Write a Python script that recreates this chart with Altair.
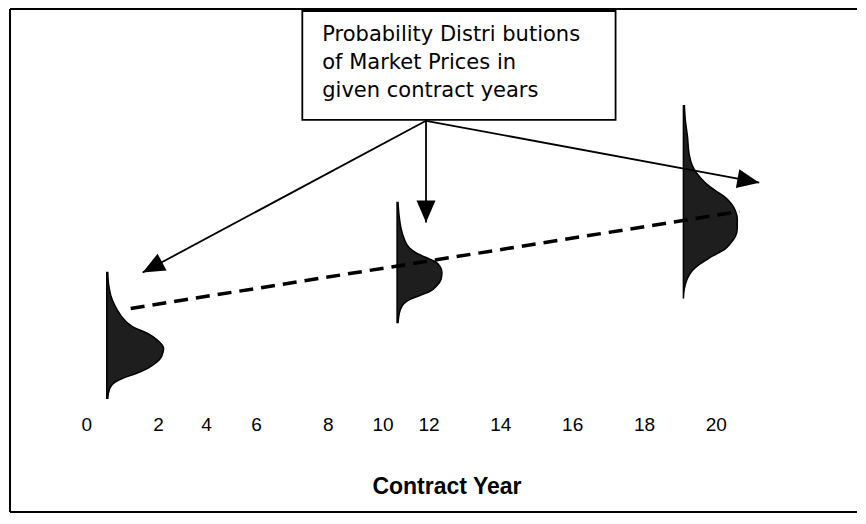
import altair as alt
import pandas as pd

# ---- diagram coordinate space (x to the right, y downwards) ----
# Price distributions: vertical profile (y) and right edge (x) of each shape
dist_names = ["year1", "year11", "year20"]
dist_base = [106, 397, 684]
dist_y = [
    [272, 285, 295, 305, 315, 322, 327, 333, 340, 348, 356, 362, 368, 373, 378, 382, 388, 398],
    [202, 215, 228, 238, 247, 253, 257, 261, 266, 272, 279, 285, 291, 295, 299, 303, 310, 322],
    [105, 120, 135, 155, 165, 172, 178, 184, 190, 196, 203, 210, 218, 228, 236, 243, 249, 254,
     258, 264, 270, 278, 288, 298],
]
dist_edge = [
    [107, 108, 110, 114, 120, 126, 133, 147, 157, 163, 161, 156, 147, 136, 122, 114, 109, 107],
    [398, 399, 401, 404, 409, 417, 426, 435, 440, 442, 441, 437, 430, 420, 410, 404, 400, 398],
    [685, 686, 688, 690, 693, 697, 702, 708, 716, 725, 732, 736, 738, 738, 736, 731, 725, 716,
     709, 700, 693, 688, 685, 684],
]

# Expected-price trend (dashed)
trend_x = [130, 740]
trend_y = [308, 211]

# Call-out arrows from the text box
arrow_origin = (426, 120)
arrow_tip_x = [142, 426, 760]
arrow_tip_y = [272, 222, 182]
arrow_angle = [241.8, 180, 100.5]

# Call-out box and text
box = dict(x0=302, x1=616, y0=10, y1=119)
box_lines = ["Probability Distri butions", "of Market Prices in", "given contract years"]
box_line_y = [40, 68, 96]
box_text_x = 322

# Axis tick labels (hand-placed in the original)
tick_labels = ["0", "2", "4", "6", "8", "10", "12", "14", "16", "18", "20"]
tick_x = [86, 158, 206, 256, 328, 383, 429, 501, 573, 645, 717]
tick_y = 431

axis_title = "Contract Year"
axis_title_x = 447
axis_title_y = 494

# Outer frame
frame_x = [9, 858]
frame_y = [8, 512]

# ---- build tables ----
rows = []
for n, b, ys, es in zip(dist_names, dist_base, dist_y, dist_edge):
    for yy, ee in zip(ys, es):
        rows.append({"dist": n, "y": yy, "x": ee, "x0": b})
dist_df = pd.DataFrame(rows)

trend_df = pd.DataFrame({"x": [trend_x[0]], "y": [trend_y[0]], "x2": [trend_x[1]], "y2": [trend_y[1]]})

arrow_df = pd.DataFrame({
    "x": [arrow_origin[0]] * 3, "y": [arrow_origin[1]] * 3,
    "x2": arrow_tip_x, "y2": arrow_tip_y, "angle": arrow_angle,
})

box_df = pd.DataFrame([box])
text_df = pd.DataFrame({"t": box_lines, "y": box_line_y, "x": [box_text_x] * 3})
tick_df = pd.DataFrame({"t": tick_labels, "x": tick_x, "y": [tick_y] * len(tick_x)})
title_df = pd.DataFrame({"t": [axis_title], "x": [axis_title_x], "y": [axis_title_y]})
frame_df = pd.DataFrame({
    "x": [frame_x[0], frame_x[0], frame_x[0]],
    "y": [frame_y[0], frame_y[0], frame_y[1]],
    "x2": [frame_x[0], frame_x[1], frame_x[1]],
    "y2": [frame_y[1], frame_y[0], frame_y[1]],
})

xs = alt.Scale(domain=[8, 858], nice=False, zero=False)
ys_ = alt.Scale(domain=[8, 516], nice=False, zero=False, reverse=True)


def X(f):
    return alt.X(f, type="quantitative", scale=xs, axis=None)


def Y(f):
    return alt.Y(f, type="quantitative", scale=ys_, axis=None)


frame = alt.Chart(frame_df).mark_rule(color="black", strokeWidth=2).encode(
    x=X("x"), y=Y("y"), x2=alt.X2("x2"), y2=alt.Y2("y2"))

dists = alt.Chart(dist_df).mark_area(
    orient="horizontal", color="#1e1e1e", stroke="black", strokeWidth=1.5,
    interpolate="monotone", opacity=1
).encode(x=X("x"), x2=alt.X2("x0"), y=Y("y"), detail="dist:N")

trend = alt.Chart(trend_df).mark_rule(color="black", strokeWidth=3.5, strokeDash=[14, 8]).encode(
    x=X("x"), y=Y("y"), x2=alt.X2("x2"), y2=alt.Y2("y2"))

arrow_lines = alt.Chart(arrow_df).mark_rule(color="black", strokeWidth=1.8).encode(
    x=X("x"), y=Y("y"), x2=alt.X2("x2"), y2=alt.Y2("y2"))

arrow_heads = alt.Chart(arrow_df).mark_point(
    shape="M0,0L0.95,2.2L-0.95,2.2Z", size=400, filled=True, color="black", opacity=1, strokeWidth=0
).encode(x=X("x2"), y=Y("y2"), angle=alt.Angle("angle:Q", scale=None))

box_rect = alt.Chart(box_df).mark_rect(fill="white", stroke="black", strokeWidth=1.8).encode(
    x=X("x0"), x2=alt.X2("x1"), y=Y("y0"), y2=alt.Y2("y1"))

box_text = alt.Chart(text_df).mark_text(
    align="left", baseline="alphabetic", font="DejaVu Sans", fontSize=21, color="black"
).encode(x=X("x"), y=Y("y"), text="t:N")

ticks = alt.Chart(tick_df).mark_text(
    align="center", baseline="alphabetic", font="Liberation Sans", fontSize=19, color="black"
).encode(x=X("x"), y=Y("y"), text="t:N")

title = alt.Chart(title_df).mark_text(
    align="center", baseline="alphabetic", font="Liberation Sans", fontSize=23, fontWeight="bold",
    color="black"
).encode(x=X("x"), y=Y("y"), text="t:N")

chart = alt.layer(
    frame, dists, trend, arrow_lines, arrow_heads, box_rect, box_text, ticks, title
).properties(
    width=850, height=508,
    autosize=alt.AutoSizeParams(type="fit", contains="padding"),
    padding=0, background="white",
).configure_view(stroke=None)

chart.save("out.html", embed_options={"renderer": "svg", "actions": False})
